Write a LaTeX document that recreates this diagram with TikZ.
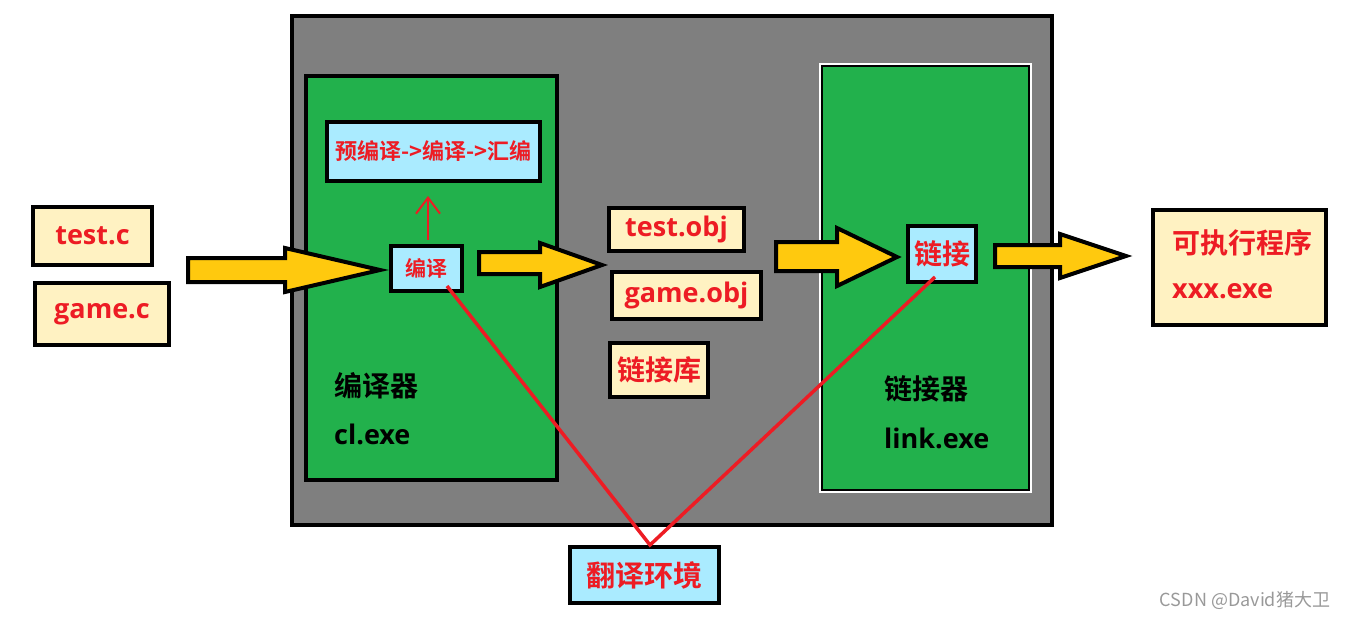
\documentclass[tikz,border=0pt]{standalone}
\usepackage{fontspec}
\setmainfont{Noto Sans CJK SC}[BoldFont={Noto Sans CJK SC Bold}]
\newfontfamily\lat{Open Sans}[BoldFont={Open Sans Bold}]
\usetikzlibrary{arrows.meta}
\definecolor{gbg}{HTML}{7F7F7F}
\definecolor{grn}{HTML}{22B14C}
\definecolor{lblue}{HTML}{AAEBFF}
\definecolor{lyel}{HTML}{FFF2C2}
\definecolor{ayel}{HTML}{FFC90E}
\definecolor{rd}{HTML}{ED1C24}
\newcommand{\fs}[1]{\fontsize{#1}{#1}\selectfont}
\tikzset{
  bx/.style={draw=black, line width=4pt, inner sep=0pt},
  file/.style={bx, fill=lyel, text=rd, font=\lat\bfseries\fs{27}},
  tool/.style={bx, fill=lblue, text=rd, font=\bfseries\fs{#1}},
  lbl/.style={anchor=west, inner sep=0pt, font=\bfseries\fs{28}},
  fat/.style={draw=black, line width=4pt, fill=ayel, line join=miter},
  redline/.style={draw=rd, line width=3.5pt},
}
\begin{document}
\begin{tikzpicture}[x=1pt,y=-1pt]
\useasboundingbox (0,0) rectangle (1351,619);
% containers
\node[bx, fill=gbg, minimum width=760pt, minimum height=509pt] (env) at (672,270.5) {};
\node[bx, fill=grn, minimum width=251pt, minimum height=404pt] (comp) at (431.5,278) {};
\node[draw=white, line width=1.5pt, fill=grn, minimum width=211pt, minimum height=428pt] (linkw) at (925.5,278) {};
\node[draw=black, line width=2pt, fill=grn, minimum width=207pt, minimum height=424pt] (linker) at (925.5,278) {};
% compiler internals
\node[tool=22, minimum width=213pt, minimum height=59pt] (pipe) at (433.5,151.5) {预编译->编译->汇编};
\node[tool=21, minimum width=71pt, minimum height=45pt] (bianyi) at (426.5,268.5) {编译};
\draw[draw=rd, line width=2pt, -{Straight Barb[length=16pt,width=24pt]}] (bianyi.north -| 428,0) ++(0,-4) coordinate (ua) -- (428,196) coordinate (ub);
\node[lbl] (cname) at (334,386) {编译器};
\node[lbl, font=\lat\bfseries\fs{27}] (cexe) at (334,434) {cl.exe};
% linker internals
\node[tool=28, minimum width=68pt, minimum height=56pt] (lianjie) at (942,254) {链接};
\node[lbl] (lname) at (884,389) {链接器};
\node[lbl, font=\lat\bfseries\fs{27}] (lexe) at (884,438) {link.exe};
% files
\node[file, minimum width=119pt, minimum height=58pt] (testc) at (92.5,236) {test.c};
\node[file, minimum width=134pt, minimum height=62pt] (gamec) at (102,314) {game.c};
\node[file, minimum width=135pt, minimum height=43pt] (testobj) at (676.5,229.5) {test.obj};
\node[file, minimum width=149pt, minimum height=47pt] (gameobj) at (686.5,295.5) {game.obj};
\node[file, font=\bfseries\fs{28}, minimum width=98pt, minimum height=54pt] (lib) at (659,370) {链接库};
\node[file, minimum width=173pt, minimum height=115pt] (exe) at (1239.5,267.5) {};
\node[anchor=west, inner sep=0pt, text=rd, font=\bfseries\fs{28}] (exe1) at (1172,243) {可执行程序};
\node[anchor=west, inner sep=0pt, text=rd, font=\lat\bfseries\fs{27}] (exe2) at (1172,291) {xxx.exe};
% fat arrows
\draw[fat] (188,258) -- (285,258) -- (285,248) -- (380,270) -- (285,292) -- (285,282) -- (188,282) -- cycle;
\draw[fat] (479,252) -- (540,252) -- (540,243) -- (602,265) -- (540,287) -- (540,274) -- (479,274) -- cycle;
\draw[fat] (776,242) -- (837,242) -- (837,228) -- (897,257) -- (837,286) -- (837,271) -- (776,271) -- cycle;
\draw[fat] (995,245) -- (1060,245) -- (1060,234) -- (1126,256) -- (1060,278) -- (1060,267) -- (995,267) -- cycle;
% translation environment
\node[tool=29, minimum width=149pt, minimum height=56pt] (fanyi) at (644.5,575) {翻译环境};
\coordinate (a) at (447,286);
\coordinate (b) at (935,277);
\draw[redline, line join=miter] (a) -- (fanyi.north -| 650,0) -- (b);
% watermark
\node[text=black!40, font=\fs{18}, inner sep=0pt] (wm) at (1245,600) {CSDN @David猪大卫};
\end{tikzpicture}
\end{document}
